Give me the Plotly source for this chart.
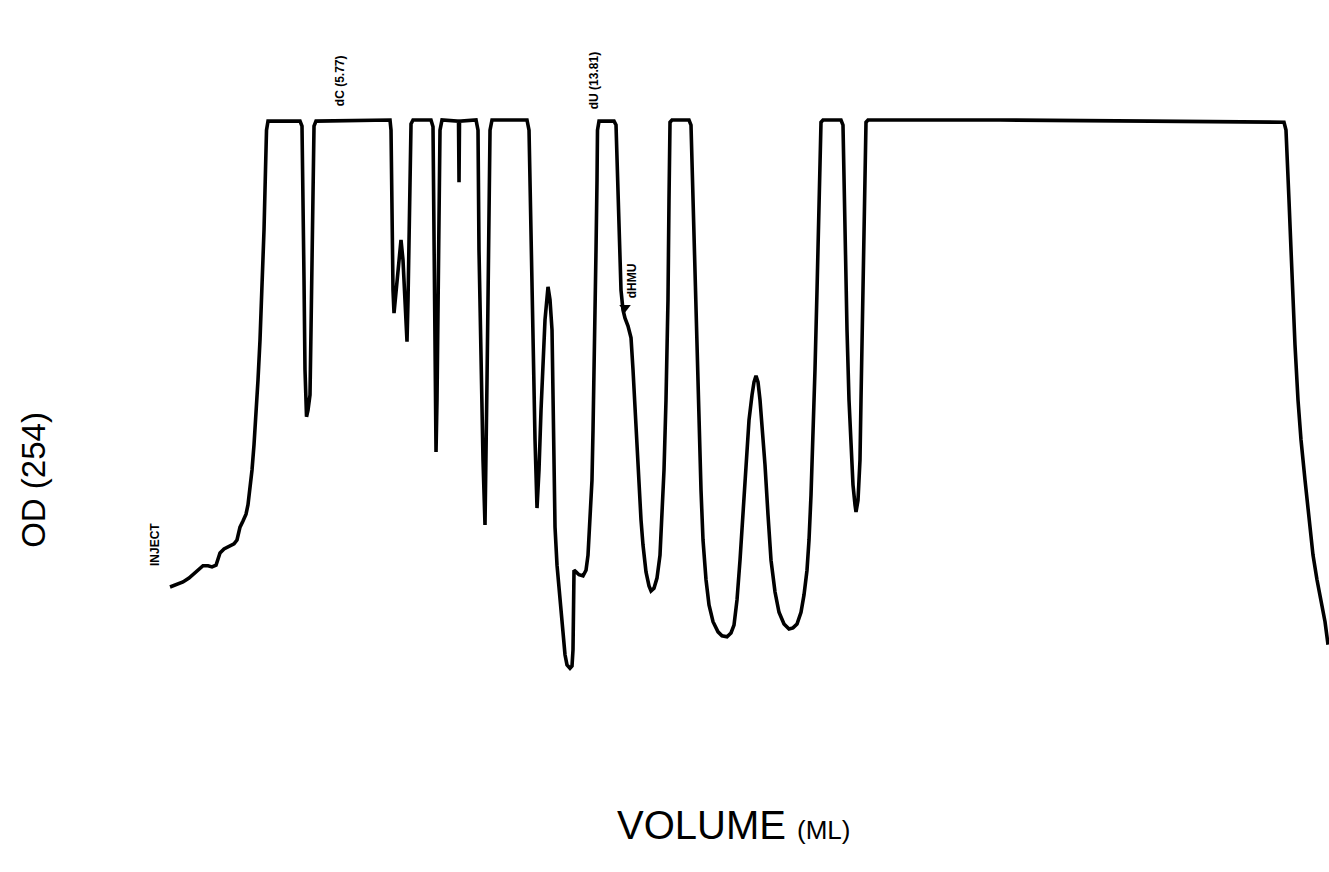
import plotly.graph_objects as go

# HPLC elution profile: absorbance at 254 nm vs. elution volume (mL).
# OD is expressed as a fraction of recorder full scale (1.0 = pen limit).
volume_ml = [
    0.000, 0.190, 0.411, 0.601, 0.728, 0.886, 1.044, 1.203, 1.329, 1.456,
    1.519, 1.582, 1.709, 1.867, 2.025, 2.120, 2.152, 2.215, 2.310, 2.405,
    2.468, 2.532, 2.595, 2.658, 2.722, 2.785, 2.848, 2.911, 2.975, 3.022,
    3.054, 3.101, 4.114, 4.177, 4.209, 4.241, 4.272, 4.304, 4.320, 4.367,
    4.430, 4.462, 4.494, 4.525, 4.557, 4.620, 6.962, 6.994, 7.025, 7.057,
    7.089, 7.152, 7.247, 7.310, 7.373, 7.437, 7.500, 7.532, 7.563, 7.595,
    7.627, 7.690, 8.259, 8.323, 8.354, 8.386, 8.418, 8.449, 8.481, 8.513,
    8.544, 8.608, 9.130, 9.146, 9.161, 9.684, 9.747, 9.778, 9.842, 9.905,
    9.968, 10.000, 10.032, 10.063, 10.095, 10.127, 10.190, 11.297, 11.361, 11.424,
    11.487, 11.551, 11.614, 11.677, 11.741, 11.804, 11.867, 11.962, 12.025, 12.089,
    12.120, 12.152, 12.184, 12.247, 12.310, 12.405, 12.500, 12.563, 12.658, 12.722,
    12.753, 12.769, 12.785, 12.848, 12.943, 13.070, 13.165, 13.228, 13.291, 13.354,
    13.386, 13.418, 13.449, 13.481, 13.513, 13.528, 13.576, 14.051, 14.114, 14.146,
    14.177, 14.209, 14.272, 14.335, 14.399, 14.494, 14.589, 14.652, 14.715, 14.778,
    14.842, 14.905, 14.968, 15.063, 15.158, 15.222, 15.316, 15.411, 15.506, 15.570,
    15.633, 15.696, 15.759, 15.791, 15.807, 15.823, 15.886, 16.424, 16.487, 16.551,
    16.614, 16.677, 16.741, 16.804, 16.867, 16.962, 17.057, 17.184, 17.342, 17.468,
    17.627, 17.753, 17.848, 17.943, 18.038, 18.133, 18.228, 18.323, 18.418, 18.481,
    18.544, 18.608, 18.671, 18.734, 18.829, 18.924, 19.019, 19.146, 19.272, 19.430,
    19.589, 19.715, 19.842, 19.968, 20.063, 20.158, 20.222, 20.285, 20.348, 20.411,
    20.475, 20.522, 20.570, 20.601, 20.665, 21.234, 21.297, 21.329, 21.361, 21.424,
    21.487, 21.551, 21.614, 21.677, 21.709, 21.772, 21.835, 21.867, 21.899, 21.930,
    21.962, 21.994, 22.025, 22.089, 26.266, 31.013, 35.253, 35.316, 35.348, 35.411,
    35.475, 35.538, 35.601, 35.696, 35.791, 35.918, 36.044, 36.171, 36.297, 36.424,
    36.551, 36.646,
]

od_254 = [
    0.166, 0.170, 0.175, 0.182, 0.188, 0.196, 0.204, 0.204, 0.202, 0.205,
    0.214, 0.227, 0.234, 0.238, 0.243, 0.250, 0.261, 0.273, 0.284, 0.296,
    0.313, 0.339, 0.375, 0.420, 0.473, 0.536, 0.607, 0.696, 0.804, 0.911,
    0.982, 0.998, 0.998, 0.989, 0.893, 0.714, 0.554, 0.491, 0.470, 0.482,
    0.509, 0.625, 0.768, 0.911, 0.989, 0.998, 1.000, 0.982, 0.821, 0.696,
    0.655, 0.696, 0.759, 0.786, 0.750, 0.679, 0.604, 0.679, 0.821, 0.946,
    0.993, 1.000, 1.000, 0.988, 0.768, 0.536, 0.407, 0.500, 0.679, 0.857,
    0.982, 1.000, 0.998, 0.889, 0.998, 1.000, 0.982, 0.768, 0.554, 0.393,
    0.277, 0.375, 0.536, 0.679, 0.857, 0.982, 1.000, 1.000, 0.982, 0.768,
    0.589, 0.429, 0.307, 0.375, 0.482, 0.571, 0.643, 0.702, 0.679, 0.625,
    0.500, 0.375, 0.273, 0.205, 0.161, 0.095, 0.045, 0.027, 0.021, 0.025,
    0.054, 0.125, 0.196, 0.193, 0.188, 0.186, 0.196, 0.223, 0.286, 0.357,
    0.446, 0.536, 0.643, 0.768, 0.893, 0.982, 0.998, 0.998, 0.991, 0.929,
    0.857, 0.768, 0.696, 0.661, 0.646, 0.632, 0.611, 0.554, 0.482, 0.411,
    0.339, 0.286, 0.241, 0.193, 0.168, 0.159, 0.164, 0.182, 0.223, 0.286,
    0.375, 0.500, 0.679, 0.857, 0.964, 0.996, 1.000, 1.000, 0.991, 0.857,
    0.714, 0.571, 0.446, 0.339, 0.250, 0.179, 0.134, 0.104, 0.086, 0.079,
    0.077, 0.084, 0.098, 0.143, 0.214, 0.295, 0.384, 0.464, 0.509, 0.532,
    0.543, 0.532, 0.500, 0.455, 0.384, 0.295, 0.214, 0.157, 0.121, 0.100,
    0.091, 0.093, 0.100, 0.121, 0.152, 0.196, 0.250, 0.330, 0.429, 0.554,
    0.696, 0.839, 0.964, 0.996, 1.000, 1.000, 0.991, 0.893, 0.768, 0.625,
    0.500, 0.411, 0.348, 0.313, 0.300, 0.321, 0.393, 0.500, 0.607, 0.732,
    0.857, 0.964, 0.996, 1.000, 1.000, 0.998, 0.996, 0.982, 0.929, 0.857,
    0.768, 0.679, 0.598, 0.500, 0.429, 0.357, 0.286, 0.223, 0.179, 0.143,
    0.104, 0.063,
]

# Identified peaks (retention volume, mL)
peak_names = ["dC", "dU"]
peak_volumes = [5.77, 13.81]

# 5-hydroxymethyl-dU shoulder on the tail of the dU peak
dhmu_volume = 14.40
dhmu_od = 0.665

INK = "#000000"
SANS = "Liberation Sans, Arial, sans-serif"
LABEL_FONT = dict(family=SANS, size=12, color=INK)

fig = go.Figure()

fig.add_trace(go.Scatter(
    x=volume_ml, y=od_254, mode="lines",
    line=dict(color=INK, width=3.6, shape="linear"),
    hoverinfo="x+y", showlegend=False,
))

# Arrowhead marking the dHMU shoulder
fig.add_trace(go.Scatter(
    x=[dhmu_volume], y=[dhmu_od], mode="markers",
    marker=dict(symbol="triangle-down", size=10, color=INK),
    hoverinfo="skip", showlegend=False,
))

annotations = []

for name, vol in zip(peak_names, peak_volumes):
    annotations.append(dict(
        x=vol, y=1.07, xref="x", yref="y", xshift=-13,
        text=f"<b>{name} ({vol:.2f})</b>", showarrow=False, textangle=-90,
        font=LABEL_FONT, xanchor="center", yanchor="middle",
    ))

annotations.append(dict(
    x=dhmu_volume, y=0.712, xref="x", yref="y", xshift=7,
    text="<b>dHMU</b>", showarrow=False, textangle=-90,
    font=LABEL_FONT, xanchor="center", yanchor="middle",
))

annotations.append(dict(
    x=volume_ml[0], y=od_254[0], xref="x", yref="y", xshift=-15, yshift=42,
    text="<b>INJECT</b>", showarrow=False, textangle=-90,
    font=LABEL_FONT, xanchor="center", yanchor="middle",
))

# Axis titles
annotations.append(dict(
    x=0.025, y=0.45, xref="paper", yref="paper",
    text="OD (254)", showarrow=False, textangle=-90,
    font=dict(family=SANS, size=33, color=INK),
    xanchor="center", yanchor="middle",
))
annotations.append(dict(
    x=0.552, y=0.054, xref="paper", yref="paper",
    text="VOLUME <span style='font-size:26px'>(ML)</span>", showarrow=False,
    font=dict(family=SANS, size=40, color=INK),
    xanchor="center", yanchor="middle",
))

fig.update_layout(
    width=1329, height=872,
    margin=dict(l=0, r=0, t=0, b=0),
    paper_bgcolor="white", plot_bgcolor="white",
    xaxis=dict(range=[-5.380, 36.677], visible=False, fixedrange=True),
    yaxis=dict(range=[-0.3429, 1.2143], visible=False, fixedrange=True),
    annotations=annotations,
)

fig.write_html("out.html", config={"displayModeBar": False})
